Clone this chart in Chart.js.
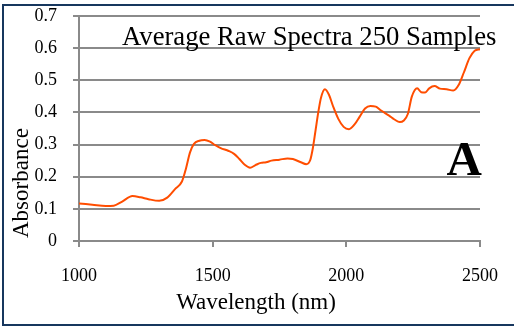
<!DOCTYPE html>
<html lang="en">
<head>
    <meta charset="UTF-8">
    <title>Average Raw Spectra</title>
    <script src="https://cdn.jsdelivr.net/npm/chart.js"></script>
    <style>
        body {
            margin: 0;
            background-color: #ffffff;
        }
        .wrap {
            position: relative;
            width: 514px;
            height: 328px;
            overflow: hidden;
        }
        .frame {
            position: absolute;
            left: 2px;
            top: 4px;
            width: 600px;
            height: 318px;
            border: 2px solid #17375e;
            pointer-events: none;
        }
    </style>
</head>
<body>
    <div class="wrap">
        <canvas id="spectraChart" width="514" height="328"></canvas>
        <div class="frame"></div>
    </div>

    <script>
        // values
        var wavelength = [1000, 1050, 1100, 1130, 1160, 1200, 1230, 1260, 1300, 1330, 1360, 1385,
            1400, 1415, 1430, 1450, 1470, 1490, 1510, 1530, 1560, 1580, 1600, 1620, 1640, 1660,
            1680, 1700, 1720, 1750, 1780, 1800, 1830, 1850, 1865, 1875, 1885, 1895, 1905, 1920,
            1935, 1950, 1970, 1990, 2010, 2030, 2050, 2070, 2090, 2110, 2130, 2160, 2180, 2200,
            2215, 2230, 2245, 2265, 2280, 2295, 2310, 2330, 2350, 2375, 2400, 2420, 2440, 2460,
            2480, 2500];
        var absorbance = [0.117, 0.113, 0.109, 0.110, 0.122, 0.140, 0.136, 0.130, 0.125, 0.135, 0.162, 0.185,
            0.225, 0.275, 0.302, 0.312, 0.314, 0.309, 0.298, 0.289, 0.280, 0.271, 0.255, 0.237, 0.228, 0.236,
            0.243, 0.245, 0.250, 0.253, 0.257, 0.255, 0.245, 0.239, 0.252, 0.290, 0.345, 0.400, 0.445, 0.472,
            0.455, 0.420, 0.380, 0.355, 0.348, 0.362, 0.387, 0.412, 0.420, 0.418, 0.406, 0.390, 0.378, 0.370,
            0.375, 0.395, 0.449, 0.475, 0.463, 0.462, 0.475, 0.482, 0.474, 0.472, 0.468, 0.485, 0.525, 0.568,
            0.592, 0.597];
        var xTicks = [1000, 1500, 2000, 2500];
        var yTicks = [0, 0.1, 0.2, 0.3, 0.4, 0.5, 0.6, 0.7];

        var chartTitle = 'Average Raw Spectra 250 Samples';
        var panelLabel = 'A';
        var xTitle = 'Wavelength (nm)';
        var yTitle = 'Absorbance';

        var serif = '"Liberation Serif", "Times New Roman", serif';
        var gridGray = '#8a8a8a';

        // texts placed like in the original figure
        var textPlugin = {
            id: 'texts',
            afterDraw: function (chart) {
                var ctx = chart.ctx;
                ctx.save();
                ctx.fillStyle = '#000';
                ctx.textBaseline = 'alphabetic';

                ctx.font = '26.7px ' + serif;
                ctx.textAlign = 'left';
                ctx.fillText(chartTitle, 122, 45);

                ctx.font = 'bold 49px ' + serif;
                ctx.textAlign = 'right';
                ctx.fillText(panelLabel, 482, 175);

                ctx.font = '23px ' + serif;
                ctx.textAlign = 'center';
                ctx.fillText(xTitle, 256, 309);

                ctx.translate(28, 238);
                ctx.rotate(-Math.PI / 2);
                ctx.textAlign = 'left';
                ctx.fillText(yTitle, 0, 0);
                ctx.restore();
            }
        };

        // drop the label overhang so layout.padding alone sets the plot box
        function noOverhang(scale) {
            scale.paddingTop = 0;
            scale.paddingBottom = 0;
            scale.paddingLeft = 0;
            scale.paddingRight = 0;
        }

        var ctx = document.getElementById('spectraChart').getContext('2d');
        var spectraChart = new Chart(ctx, {
            type: 'line',
            data: {
                datasets: [{
                    label: chartTitle,
                    data: wavelength.map(function (w, i) { return { x: w, y: absorbance[i] }; }),
                    borderColor: '#ff4d00',
                    borderWidth: 2,
                    pointRadius: 0,
                    cubicInterpolationMode: 'monotone',
                    fill: false
                }]
            },
            options: {
                responsive: false,
                animation: false,
                layout: {
                    padding: { top: 16, right: 34, left: 0, bottom: 0 }
                },
                plugins: {
                    legend: { display: false },
                    tooltip: { enabled: false }
                },
                scales: {
                    x: {
                        type: 'linear',
                        min: 1000,
                        max: 2500,
                        afterFit: function (scale) {
                            scale.height = 87;
                            noOverhang(scale);
                        },
                        afterBuildTicks: function (scale) {
                            scale.ticks = xTicks.map(function (v) { return { value: v }; });
                        },
                        grid: {
                            drawOnChartArea: false,
                            tickLength: 6,
                            color: gridGray,
                            lineWidth: 2
                        },
                        border: { color: gridGray, width: 2 },
                        ticks: {
                            padding: 18,
                            color: '#000',
                            font: { family: serif, size: 18 },
                            maxRotation: 0,
                            callback: function (v) { return String(v); }
                        }
                    },
                    y: {
                        min: 0,
                        max: 0.7,
                        afterFit: function (scale) {
                            scale.width = 79;
                            noOverhang(scale);
                        },
                        afterBuildTicks: function (scale) {
                            scale.ticks = yTicks.map(function (v) { return { value: v }; });
                        },
                        grid: {
                            tickLength: 6,
                            color: gridGray,
                            lineWidth: 2
                        },
                        border: { color: gridGray, width: 2 },
                        ticks: {
                            padding: 16,
                            color: '#000',
                            font: { family: serif, size: 18 },
                            callback: function (v) { return v === 0 ? '0' : v.toFixed(1); }
                        }
                    }
                }
            },
            plugins: [textPlugin]
        });
    </script>
</body>
</html>
